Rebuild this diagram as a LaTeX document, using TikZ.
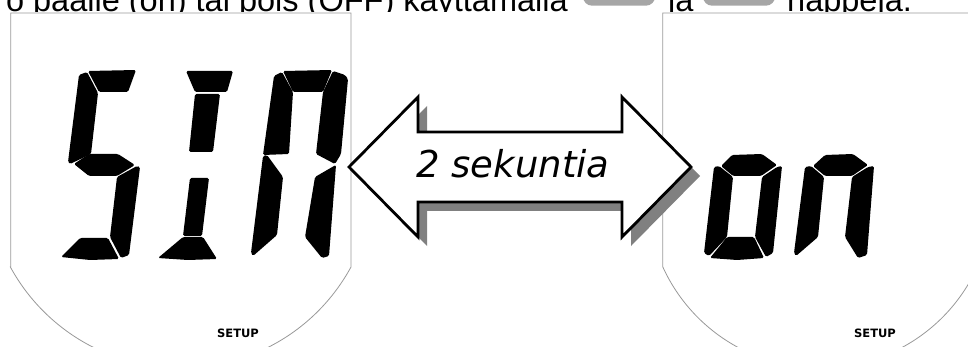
\documentclass[tikz,border=0pt]{standalone}
\usepackage{fontspec}
\setmainfont{Liberation Sans}
\newfontfamily\lcdfont{DejaVu Sans}
\usepackage{tikz}

\begin{document}
\begin{tikzpicture}[x=1pt, y=-1pt,
    lcd/.style={draw=black!40, fill=white, line width=0.8pt},
    seg/.style={fill=black, rounded corners=1.5pt},
    btn/.style={fill=black!35, rounded corners=9pt},
    toptxt/.style={inner sep=0pt, font=\fontsize{32.5}{38}\selectfont},
    arrowshadow/.style={fill=black!50},
    arrowbody/.style={draw=black, fill=white, line width=2.8pt, line join=miter},
    setuplbl/.style={inner sep=0pt, font=\lcdfont\bfseries\fontsize{11.5}{13}\selectfont}
]
    \useasboundingbox (0,0) rectangle (968,347);
    \clip (0,0) rectangle (968,347);

    % Text line above (cut off)
    \begin{scope}
        \clip (0,0) rectangle (968,12);
        \node[toptxt, anchor=base east] (line1) at (568,11.5) {o päälle (on) tai pois (OFF) käyttämällä};
        \fill[btn] (583,-20) rectangle (655,5.7);
        \node[toptxt, anchor=base west] (ja) at (668,11.5) {ja};
        \fill[btn] (703,-20) rectangle (775,5.7);
        \node[toptxt, anchor=base west] (nappeja) at (787,11.5) {nappeja.};
    \end{scope}

    % Displays
    \draw[lcd] (10.7,267) -- (10.7,13) -- (351,13) -- (351,267)
        arc[start angle=28.6, end angle=151.4, radius=194] -- cycle;
    \draw[lcd] (662.7,267) -- (662.7,13) -- (977.3,13) -- (977.3,267)
        arc[start angle=24.5, end angle=155.5, radius=172.8] -- cycle;

    % S
    \fill[seg] (88,71) -- (136,70) -- (128,92) -- (99,92) -- cycle;
    \fill[seg] (79,75) -- (87,72) -- (98,93) -- (91,154) -- (70,164) -- (68,162) -- cycle;
    \fill[seg] (74,164) -- (89,154) -- (118,154) -- (135,165) -- (117,176) -- (89,176) -- cycle;
    \fill[seg] (117,177) -- (137,166) -- (140,167) -- (129,255) -- (121,258) -- (110,237) -- cycle;
    \fill[seg] (61,257) -- (80,238) -- (108,238) -- (119,259) -- (90,260) -- cycle;

    % I
    \fill[seg] (186,71) -- (233,71) -- (227,92) -- (195,92) -- cycle;
    \fill[seg] (195,94) -- (220,94) -- (213,152) -- (189,152) -- cycle;
    \fill[seg] (190,178) -- (209,178) -- (202,236) -- (183,236) -- cycle;
    \fill[seg] (183,237) -- (203,237) -- (217,259) -- (188,260) -- (158,258) -- cycle;

    % N
    \fill[seg] (283,71) -- (332,70) -- (323,92) -- (293,92) -- cycle;
    \fill[seg] (274,76) -- (282,72) -- (293,92) -- (289,154) -- (263,155) -- cycle;
    \fill[seg] (263,156) -- (267,155) -- (283,177) -- (277,235) -- (253,256) -- (251,253) -- cycle;
    \fill[seg] (333,71) -- (345,75) -- (348,79) -- (341,154) -- (335,164) -- (316,154) -- (323,92) -- cycle;
    \fill[seg] (334,166) -- (336,165) -- (329,256) -- (322,258) -- (305,237) -- (315,177) -- cycle;

    % o
    \fill[seg] (721,166) -- (732,155) -- (762,154) -- (777,165) -- (761,176) -- (733,176) -- cycle;
    \fill[seg] (714,167) -- (719,166) -- (733,177) -- (727,237) -- (709,256) -- (704,253) -- cycle;
    \fill[seg] (777,167) -- (782,166) -- (773,253) -- (766,257) -- (755,237) -- (762,177) -- cycle;
    \fill[seg] (710,258) -- (727,237) -- (754,237) -- (764,258) -- (737,260) -- cycle;

    % n
    \fill[seg] (813,166) -- (825,155) -- (853,154) -- (868,165) -- (852,176) -- (825,176) -- cycle;
    \fill[seg] (805,167) -- (811,166) -- (824,177) -- (818,237) -- (796,256) -- (794,253) -- cycle;
    \fill[seg] (868,167) -- (874,166) -- (867,255) -- (858,258) -- (845,237) -- (852,177) -- cycle;

    % SETUP labels
    \node[setuplbl, anchor=base] (setup1) at (238,337) {SETUP};
    \node[setuplbl, anchor=base] (setup2) at (875,337) {SETUP};

    % Double arrow with shadow
    \fill[arrowshadow, shift={(9,9)}] (349,167) -- (418,97) -- (418,132) -- (622,132) -- (622,97)
        -- (691,167) -- (622,237) -- (622,202) -- (418,202) -- (418,237) -- cycle;
    \draw[arrowbody] (349,167) -- (418,97) -- (418,132) -- (622,132) -- (622,97)
        -- (691,167) -- (622,237) -- (622,202) -- (418,202) -- (418,237) -- cycle;
    \node[anchor=base, inner sep=0pt, font=\lcdfont\itshape\fontsize{37}{42}\selectfont] (delay) at (513,178) {2 sekuntia};
\end{tikzpicture}
\end{document}
